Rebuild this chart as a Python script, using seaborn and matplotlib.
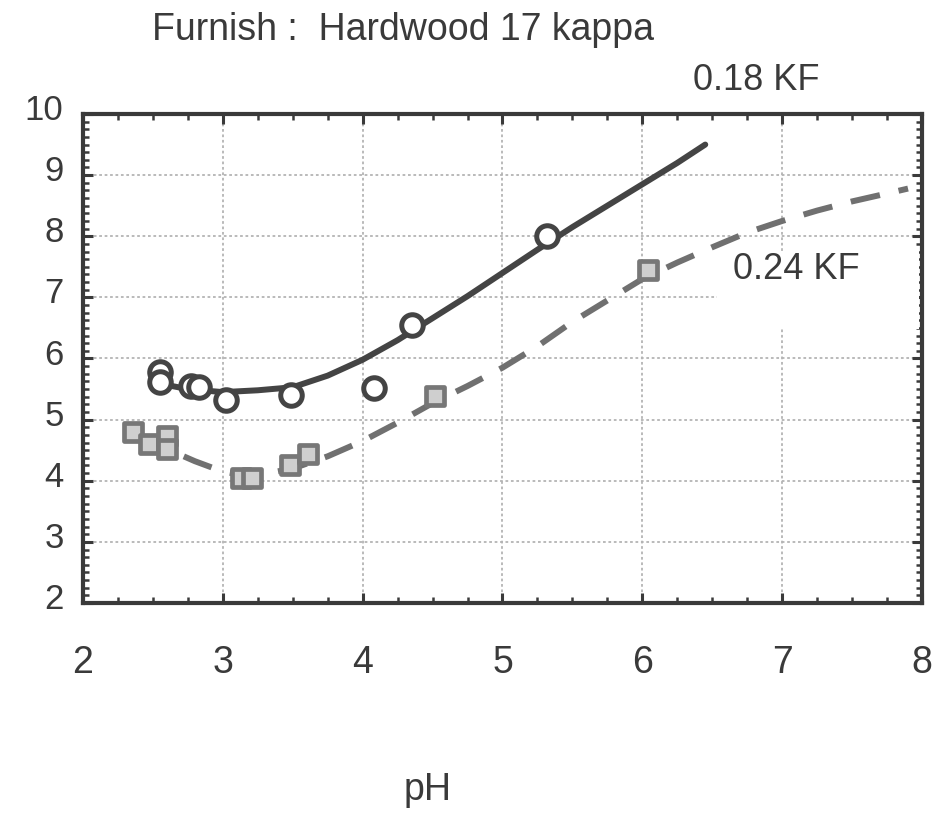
import matplotlib
matplotlib.use("Agg")
import matplotlib.pyplot as plt
import matplotlib.transforms as mtransforms
from matplotlib.patches import Rectangle
from matplotlib.ticker import MultipleLocator
import seaborn as sns
import pandas as pd

# ---- data ----
ph_018_pts = [2.55, 2.55, 2.77, 2.83, 3.02, 3.49, 4.08, 4.35, 5.32]
val_018_pts = [5.78, 5.62, 5.55, 5.53, 5.32, 5.40, 5.51, 6.55, 8.00]

ph_018_fit = [2.52, 2.75, 3.0, 3.25, 3.5, 3.75, 4.0, 4.25, 4.5, 4.75, 5.0, 5.25, 5.5, 5.75, 6.0, 6.25, 6.45]
val_018_fit = [5.60, 5.50, 5.45, 5.48, 5.53, 5.72, 5.98, 6.30, 6.66, 7.02, 7.40, 7.78, 8.15, 8.50, 8.85, 9.20, 9.50]

ph_024_pts = [2.36, 2.47, 2.60, 2.60, 3.13, 3.21, 3.48, 3.61, 4.52, 6.04]
val_024_pts = [4.80, 4.60, 4.74, 4.52, 4.05, 4.05, 4.26, 4.44, 5.38, 7.45]

ph_024_fit = [2.40, 2.60, 2.80, 3.00, 3.20, 3.50, 3.75, 4.00, 4.25, 4.50, 4.75, 5.00, 5.25, 5.50,
              5.75, 6.00, 6.25, 6.50, 6.75, 7.00, 7.25, 7.50, 7.75, 7.90]
val_024_fit = [4.72, 4.52, 4.32, 4.15, 4.07, 4.20, 4.40, 4.65, 4.95, 5.27, 5.55, 5.85, 6.20, 6.60,
               6.95, 7.30, 7.57, 7.82, 8.06, 8.25, 8.42, 8.57, 8.70, 8.78]

x_ticks = [2, 3, 4, 5, 6, 7, 8]
y_ticks = [2, 3, 4, 5, 6, 7, 8, 9, 10]

title_text = "Furnish :  Hardwood 17 kappa"
label_018 = "0.18 KF"
label_024 = "0.24 KF"
x_label = "pH"

# ---- style ----
sns.set_theme(style="white")
plt.rcParams["font.family"] = ["Liberation Sans", "DejaVu Sans"]
ink = "#3a3a3a"

W, H = 935, 815
fig = plt.figure(figsize=(W / 100, H / 100), dpi=100)
ax = fig.add_axes([83 / W, 1 - 603 / H, (922 - 83) / W, (603 - 114) / H])

df_fit18 = pd.DataFrame({"pH": ph_018_fit, "v": val_018_fit})
df_fit24 = pd.DataFrame({"pH": ph_024_fit, "v": val_024_fit})
df_p18 = pd.DataFrame({"pH": ph_018_pts, "v": val_018_pts})
df_p24 = pd.DataFrame({"pH": ph_024_pts, "v": val_024_pts})

sns.lineplot(data=df_fit18, x="pH", y="v", ax=ax, color="#444444", lw=4.3, sort=False, zorder=3)
sns.lineplot(data=df_fit24, x="pH", y="v", ax=ax, color="#707070", lw=4.3, sort=False, zorder=3)
ax.lines[-1].set_dashes((5.0, 3.2))
ax.lines[-1].set_solid_capstyle("butt")

sns.scatterplot(data=df_p18, x="pH", y="v", ax=ax, marker="o", s=240, facecolor="white",
                edgecolor="#444444", linewidth=3.6, zorder=4)
sns.scatterplot(data=df_p24, x="pH", y="v", ax=ax, marker="s", s=170, facecolor="#cfcfcf",
                edgecolor="#777777", linewidth=3.4, zorder=4)

ax.set_xlim(2, 8)
ax.set_ylim(2, 10)
ax.set_xticks(x_ticks)
ax.set_yticks(y_ticks)
ax.xaxis.set_minor_locator(MultipleLocator(0.25))
ax.yaxis.set_minor_locator(MultipleLocator(0.125))
ax.set_xticklabels([str(t) for t in x_ticks])
ax.set_yticklabels([str(t) for t in y_ticks])

ax.grid(True, which="major", color="#b4b4b4", linestyle=(0, (1.5, 1.5)), lw=1.3)
ax.set_axisbelow(True)

for side in ["top", "bottom", "left", "right"]:
    ax.spines[side].set_visible(True)
    ax.spines[side].set_color(ink)
    ax.spines[side].set_linewidth(3.0)

ax.tick_params(which="both", direction="in", top=True, right=True, bottom=True, left=True, color=ink)
ax.tick_params(which="major", length=7, width=2.2)
ax.tick_params(which="minor", length=4.5, width=1.8)
ax.tick_params(axis="x", which="major", labelsize=27, pad=30, labelcolor=ink)
ax.tick_params(axis="y", which="major", labelsize=25, pad=14, labelcolor=ink)

off = mtransforms.ScaledTranslation(0, 5 / 72, fig.dpi_scale_trans)
for lab in ax.get_yticklabels():
    lab.set_transform(lab.get_transform() + off)

ax.set_xlabel("")
ax.set_ylabel("")

# white patch behind the 0.24 KF label (covers grid)
ax.add_patch(Rectangle((0.756, 0.56), 0.24, 0.16, transform=ax.transAxes,
                       facecolor="white", edgecolor="none", zorder=1.5))
ax.text(6.65, 7.45, label_024, fontsize=26, color=ink, ha="left", va="center", zorder=5)

fig.text(152 / W, 1 - 30 / H, title_text, fontsize=27, color=ink, ha="left", va="center")
fig.text(693 / W, 1 - 80 / H, label_018, fontsize=26, color=ink, ha="left", va="center")
fig.text(428 / W, 1 - 790 / H, x_label, fontsize=27, color=ink, ha="center", va="center")

fig.savefig("out.png", dpi=100, facecolor="white")
